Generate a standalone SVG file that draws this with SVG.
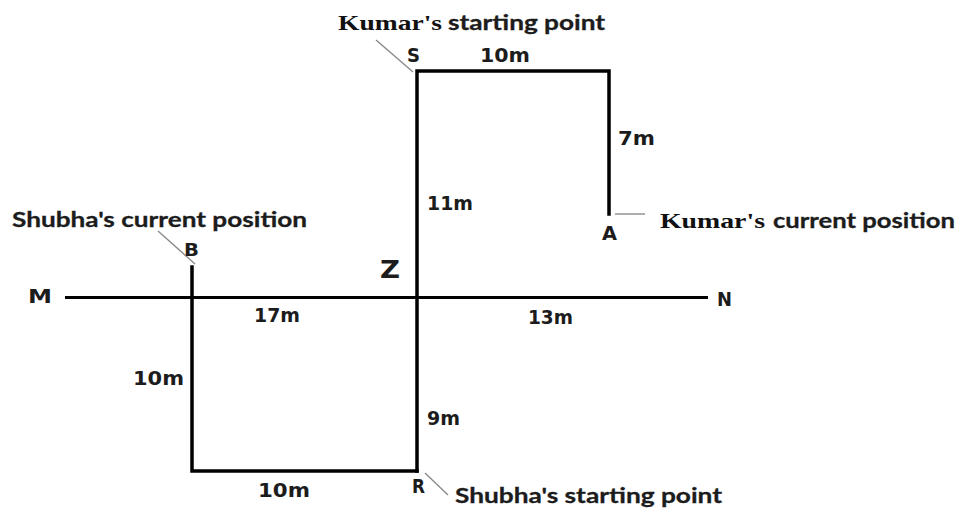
<svg xmlns="http://www.w3.org/2000/svg" width="965" height="516" viewBox="0 0 965 516">
  <style>
    .path { fill: none; stroke: #000; stroke-width: 3.5; stroke-linecap: square; stroke-linejoin: miter; }
    .axis { fill: none; stroke: #000; stroke-width: 3; }
    .leader { fill: none; stroke: #8a8a8a; stroke-width: 1.4; }
    .lbl { font-family: "DejaVu Sans", "Liberation Sans", sans-serif; font-weight: bold; fill: #1c1c1c; }
    .txt { font-family: Lato, "Open Sans", "Liberation Sans", sans-serif; font-weight: bold; fill: #1c1c1c; font-size: 21px; stroke: #1c1c1c; stroke-width: 0.3; }
    .ser { font-family: "Liberation Serif", "DejaVu Serif", serif; font-weight: bold; fill: #111; font-size: 21px; }
  </style>
  <rect width="965" height="516" fill="#fff"/>

  <g id="connectors">
    <line class="axis" x1="65" y1="297.5" x2="708" y2="297.5"/>
    <polyline class="path" points="417,471 417,71 609,71 609,214"/>
    <polyline class="path" points="417,471 192,471 192,267"/>
    <line class="leader" x1="376" y1="40" x2="413" y2="72"/>
    <line class="leader" x1="615" y1="214" x2="645" y2="214"/>
    <line class="leader" x1="158" y1="231" x2="195" y2="264"/>
    <line class="leader" x1="425" y1="473" x2="448" y2="495"/>
    <text class="lbl" x="480" y="62" font-size="19" textLength="50" lengthAdjust="spacingAndGlyphs">10m</text>
    <text class="lbl" x="618" y="145" font-size="19" textLength="37" lengthAdjust="spacingAndGlyphs">7m</text>
    <text class="lbl" x="427" y="210" font-size="19" textLength="46" lengthAdjust="spacingAndGlyphs">11m</text>
    <text class="lbl" x="254" y="322" font-size="19" textLength="46" lengthAdjust="spacingAndGlyphs">17m</text>
    <text class="lbl" x="528" y="324" font-size="19" textLength="45" lengthAdjust="spacingAndGlyphs">13m</text>
    <text class="lbl" x="133" y="385" font-size="19" textLength="51" lengthAdjust="spacingAndGlyphs">10m</text>
    <text class="lbl" x="427" y="425" font-size="19" textLength="33" lengthAdjust="spacingAndGlyphs">9m</text>
    <text class="lbl" x="258" y="497" font-size="19" textLength="52" lengthAdjust="spacingAndGlyphs">10m</text>
  </g>

  <g id="node-S">
    <text x="338" y="30"><tspan class="ser" textLength="104" lengthAdjust="spacingAndGlyphs">Kumar's</tspan></text>
    <text class="txt" x="448" y="30" textLength="157" lengthAdjust="spacingAndGlyphs">starting point</text>
    <text class="lbl" x="407" y="62" font-size="20" textLength="13" lengthAdjust="spacingAndGlyphs">S</text>
  </g>

  <g id="node-A">
    <text class="lbl" x="602" y="240" font-size="20" textLength="15" lengthAdjust="spacingAndGlyphs">A</text>
    <text class="ser" x="660" y="228" textLength="105" lengthAdjust="spacingAndGlyphs">Kumar's</text>
    <text class="txt" x="773" y="228" textLength="182" lengthAdjust="spacingAndGlyphs">current position</text>
  </g>

  <g id="node-B">
    <text class="txt" x="12" y="227" textLength="295" lengthAdjust="spacingAndGlyphs">Shubha's current position</text>
    <text class="lbl" x="184" y="256" font-size="18" textLength="15" lengthAdjust="spacingAndGlyphs">B</text>
  </g>

  <g id="node-Z">
    <text class="lbl" x="380" y="278" font-size="25" textLength="20" lengthAdjust="spacingAndGlyphs">Z</text>
  </g>

  <g id="node-M">
    <text class="lbl" x="28" y="303" font-size="19" textLength="24" lengthAdjust="spacingAndGlyphs">M</text>
  </g>

  <g id="node-N">
    <text class="lbl" x="717" y="306" font-size="20" textLength="15" lengthAdjust="spacingAndGlyphs">N</text>
  </g>

  <g id="node-R">
    <text class="lbl" x="412" y="493" font-size="19" textLength="13" lengthAdjust="spacingAndGlyphs">R</text>
    <text class="txt" x="455" y="503" textLength="267" lengthAdjust="spacingAndGlyphs">Shubha's starting point</text>
  </g>
</svg>
